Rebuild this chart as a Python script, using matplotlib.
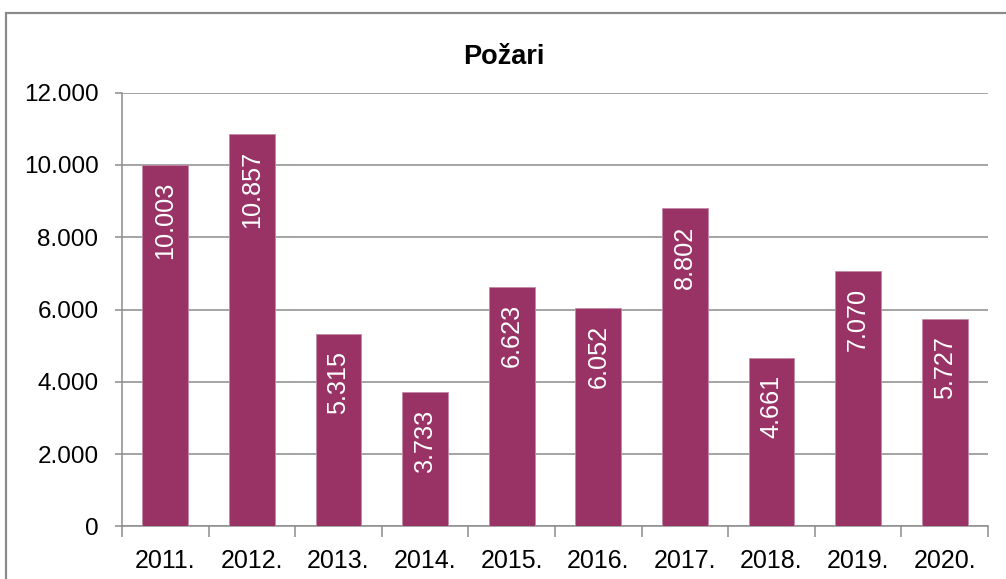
import matplotlib
matplotlib.use("Agg")
import matplotlib.pyplot as plt
from matplotlib.patches import Rectangle
from matplotlib.ticker import FuncFormatter, FixedLocator

plt.rcParams["font.family"] = ["Liberation Sans", "DejaVu Sans"]

years = ["2011.", "2012.", "2013.", "2014.", "2015.", "2016.", "2017.", "2018.", "2019.", "2020."]
fires = [10003, 10857, 5315, 3733, 6623, 6052, 8802, 4661, 7070, 5727]
title = "Požari"

BAR_COLOR = "#993366"
GRID_COLOR = "#8c8c8c"


def dot_thousands(v):
    return f"{int(round(v)):,}".replace(",", ".")


fig = plt.figure(figsize=(10.06, 5.79), dpi=100)
ax = fig.add_axes([0.1213, 0.0907, 0.8608, 0.7492])

# outer chart frame, cut off on the right and bottom
frame_top = 1 - 13 / 579
fig.patches.append(Rectangle((6 / 1006, -0.2), 1.2, frame_top + 0.2,
                             transform=fig.transFigure, fill=False,
                             edgecolor="#8a8a8a", linewidth=1.6, zorder=0))

x = list(range(len(years)))
bars = ax.bar(x, fires, width=0.53, color=BAR_COLOR, edgecolor="#c58aa8",
              linewidth=0.6, zorder=3)

for rect, v in zip(bars, fires):
    ax.annotate(dot_thousands(v), (rect.get_x() + rect.get_width() / 2, v),
                xytext=(0, -17), textcoords="offset pixels",
                rotation=90, ha="center", va="top", color="white",
                fontsize=18.2, zorder=4)

ax.set_xlim(-0.5, len(years) - 0.5)
ax.set_ylim(0, 12000)
ax.set_yticks(range(0, 12001, 2000))
ax.yaxis.set_major_formatter(FuncFormatter(lambda v, _: dot_thousands(v)))
ax.grid(axis="y", color=GRID_COLOR, linewidth=1.1, zorder=1)
ax.set_axisbelow(True)

ax.set_xticks(x)
ax.set_xticklabels(years)
ax.xaxis.set_minor_locator(FixedLocator([i - 0.5 for i in range(len(years) + 1)]))
ax.tick_params(axis="x", which="major", length=0, pad=16, labelsize=18)
ax.tick_params(axis="x", which="minor", length=8, width=1.1, color=GRID_COLOR)
ax.tick_params(axis="y", length=5, width=1.1, color=GRID_COLOR, pad=12, labelsize=17.5)

for side in ("top", "right"):
    ax.spines[side].set_visible(False)
for side in ("left", "bottom"):
    ax.spines[side].set_color(GRID_COLOR)
    ax.spines[side].set_linewidth(1.1)

fig.text(0.501, 1 - 57 / 579, title, ha="center", va="center",
         fontsize=19.5, fontweight="bold")

fig.savefig("out.png", dpi=100)
